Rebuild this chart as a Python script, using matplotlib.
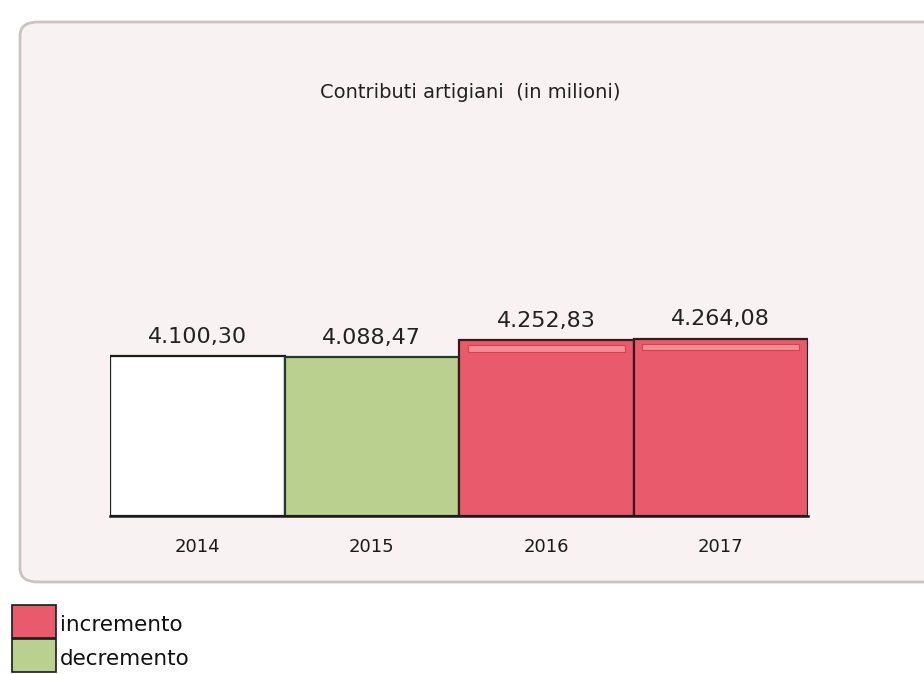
import matplotlib
matplotlib.use("Agg")
import matplotlib.pyplot as plt
from matplotlib.patches import FancyBboxPatch, Rectangle

years = ["2014", "2015", "2016", "2017"]
values = [4100.30, 4088.47, 4252.83, 4264.08]
value_labels = ["4.100,30", "4.088,47", "4.252,83", "4.264,08"]
kinds = ["base", "decremento", "incremento", "incremento"]
legend_labels = ["incremento", "decremento"]

colors = {"base": "#ffffff", "decremento": "#b9d08e", "incremento": "#e85a6c"}
edges = {"base": "#1a1a1a", "decremento": "#1f3d2c", "incremento": "#3a1a1a"}

W, H = 924, 674
fig = plt.figure(figsize=(W / 100, H / 100), dpi=100)
fig.patch.set_facecolor("white")

# panel
panel = FancyBboxPatch((20 / W, 1 - 582 / H), 930 / W, 560 / H,
                       boxstyle="round,pad=0,rounding_size=0.02",
                       transform=fig.transFigure, facecolor="#f9f2f2",
                       edgecolor="#c9c3c3", linewidth=2.0, zorder=-5)
fig.patches.append(panel)

fig.text(470 / W, 1 - 92 / H, "Contributi artigiani  (in milioni)",
         ha="center", va="center", fontsize=14, color="#222222",
         family="DejaVu Sans")

# axes in pixel space
left, right, top, bottom = 110, 808, 100, 516
ax = fig.add_axes([left / W, 1 - bottom / H, (right - left) / W, (bottom - top) / H])
ax.set_zorder(2)
ax.set_facecolor("none")
base = 2575.0
px_per_unit = 16.0 / (values[2] - values[0])
ymax = base + (bottom - top) / px_per_unit
ax.set_ylim(base, ymax)
ax.set_xlim(-0.5, len(years) - 0.5)

x = list(range(len(years)))
for i, (v, k) in enumerate(zip(values, kinds)):
    ax.bar(i, v - base, bottom=base, width=1.0, color=colors[k],
           edgecolor=edges[k], linewidth=1.6, zorder=2)
    if k == "incremento":
        # lighter bevel near top
        ax.add_patch(Rectangle((i - 0.45, v - 110), 0.90, 60, facecolor="#f08d95",
                               edgecolor="#d8404f", linewidth=0.8, zorder=3))
    ax.text(i, v + 90, value_labels[i], ha="center", va="bottom",
            fontsize=16, color="#222222")

ax.set_xticks(x)
ax.set_xticklabels(years, fontsize=13, color="#1a1a1a")
ax.tick_params(axis="x", length=0, pad=16)
ax.set_yticks([])
for s in ["left", "right", "top"]:
    ax.spines[s].set_visible(False)
ax.spines["bottom"].set_linewidth(1.8)
ax.spines["bottom"].set_color("#1a1a1a")

# legend
for j, (lab, k) in enumerate(zip(legend_labels, ["incremento", "decremento"])):
    y0 = 605 + j * 34
    fig.patches.append(Rectangle((12 / W, 1 - (y0 + 33) / H), 44 / W, 33 / H,
                                 transform=fig.transFigure, facecolor=colors[k],
                                 edgecolor="#1a1a1a", linewidth=1.2))
    fig.text(60 / W, 1 - (y0 + 20) / H, lab, ha="left", va="center",
             fontsize=15.5, color="#111111")

fig.savefig("out.png", dpi=100)
